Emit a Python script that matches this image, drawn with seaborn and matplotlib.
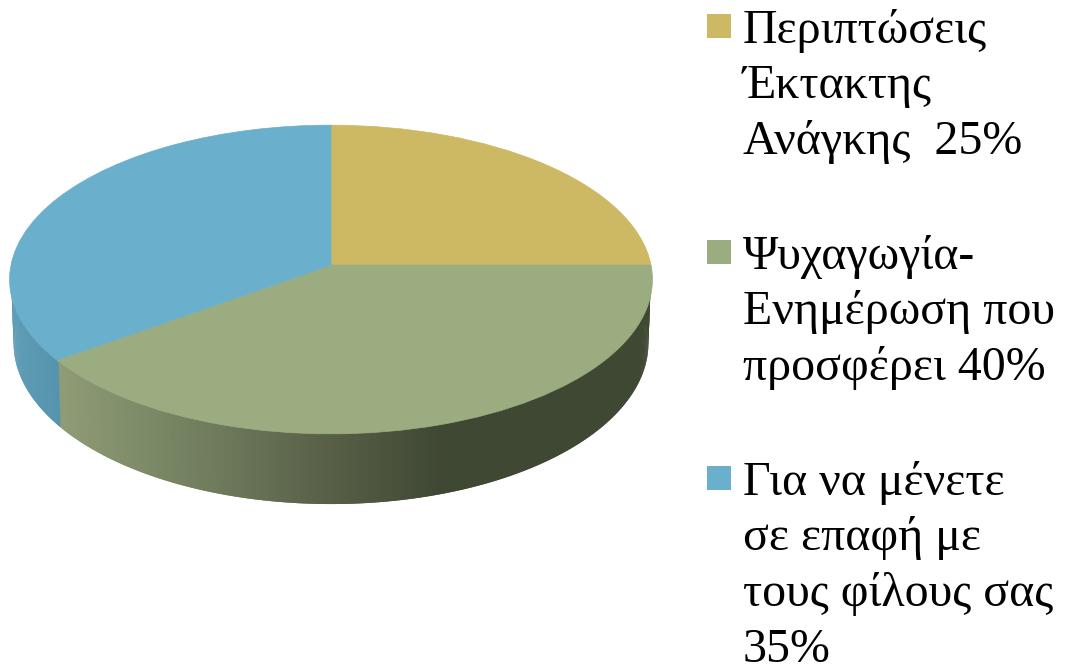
import numpy as np
import seaborn as sns
import matplotlib
matplotlib.use("Agg")
import matplotlib.pyplot as plt
from matplotlib.patches import Rectangle
from matplotlib.transforms import Transform

shares = [25, 40, 35]
legend_lines = [
    ["Περιπτώσεις", "Έκτακτης", "Ανάγκης  25%"],
    ["Ψυχαγωγία-", "Ενημέρωση που", "προσφέρει 40%"],
    ["Για να μένετε", "σε επαφή με", "τους φίλους σας", "35%"],
]
top_colors = ["#CDB863", "#9BAD80", "#6AAFCB"]
legend_first_baseline = [43, 269, 495]

sns.set_theme(style="white")
plt.rcParams["font.family"] = ["Liberation Serif", "DejaVu Serif"]
palette = sns.color_palette(top_colors)


# unit circle -> picture pixels, with a bit of perspective
class Tilt(Transform):
    input_dims = 2
    output_dims = 2

    def __init__(self, x0, y0, rx, ry, k=0.094):
        super().__init__()
        self.x0, self.y0, self.rx, self.ry, self.k = x0, y0, rx, ry, k

    def transform_non_affine(self, values):
        values = np.asarray(values, dtype=float)
        u, v = values[:, 0], values[:, 1]
        d = 1 + self.k * v
        return np.column_stack([self.x0 + self.rx * u / d, self.y0 - self.ry * v / d])


top_face = Tilt(331, 265, 320, 153)
bottom_face = Tilt(331, 328, 316, 159.5)

fig = plt.figure(figsize=(10.67, 6.65), dpi=100)
ax = fig.add_axes([0, 0, 1, 1])

wedges, _ = ax.pie(shares, colors=palette, startangle=90, counterclock=False,
                   wedgeprops={"linewidth": 0.5, "zorder": 3})
for w in wedges:
    w.set_edgecolor(w.get_facecolor())
    w.set_transform(top_face + ax.transData)

ax.set_aspect("auto")
ax.set_xlim(0, 1067)
ax.set_ylim(665, 0)
ax.axis("off")

# side wall, split where the blue and green slices meet
blue_start = 90 - 360 * (shares[0] + shares[1]) / sum(shares)
theta = np.radians(np.linspace(12, -192, 400))
circle = np.column_stack([np.cos(theta), np.sin(theta)])
upper = top_face.transform_non_affine(circle * 0.995)
lower = bottom_face.transform_non_affine(circle)

mid_x = (lower[:-1, 0] + lower[1:, 0]) / 2
mid_t = np.degrees((theta[:-1] + theta[1:]) / 2)
stops = [60, 200, 340, 440, 660]
green_r = np.interp(mid_x, stops, [0x8F, 0x72, 0x55, 0x3F, 0x3F])
green_g = np.interp(mid_x, stops, [0x9C, 0x7F, 0x5D, 0x48, 0x48])
green_b = np.interp(mid_x, stops, [0x76, 0x5F, 0x45, 0x33, 0x33])
rgb = np.column_stack([green_r, green_g, green_b]) / 255
is_blue = mid_t < blue_start
rgb[is_blue] = np.column_stack([
    np.interp(mid_x[is_blue], [10, 60], [0x60, 0x56]),
    np.interp(mid_x[is_blue], [10, 60], [0x9E, 0x94]),
    np.interp(mid_x[is_blue], [10, 60], [0xB8, 0xAD]),
]) / 255

# each strip runs over the next one so no seams show
for i in range(len(rgb)):
    j = min(i + 2, len(theta) - 1)
    ax.fill([upper[i, 0], upper[j, 0], lower[j, 0], lower[i, 0]],
            [upper[i, 1], upper[j, 1], lower[j, 1], lower[i, 1]],
            color=rgb[i], linewidth=0, zorder=2)

# legend on the right
for lines, base, color in zip(legend_lines, legend_first_baseline, palette):
    ax.add_patch(Rectangle((707, base - 29), 24, 24, facecolor=color, edgecolor="none"))
    for i, line in enumerate(lines):
        ax.text(743, base + i * 55.5, line, fontsize=34.45, color="black",
                ha="left", va="baseline")

fig.savefig("out.png", dpi=100)
